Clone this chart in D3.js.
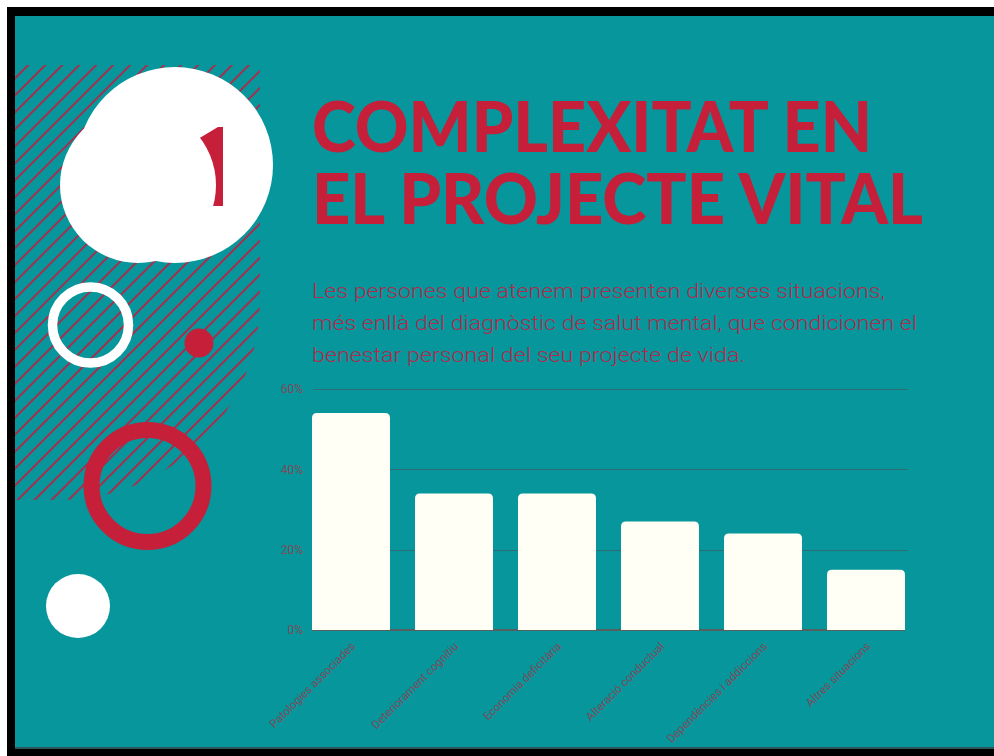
<!DOCTYPE html>
<html>
<head>
<meta charset="utf-8">
<script src="https://cdn.jsdelivr.net/npm/d3@7"></script>
<style>
  html, body { margin: 0; padding: 0; background: #ffffff; }
  svg { display: block; }
</style>
</head>
<body>
<div id="viz"></div>
<script>
// chart values
var categories = ["Patologies associades", "Deteriorament cognitiu", "Economia deficitària",
                  "Alteració conductual", "Dependències i addiccions", "Altres situacions"];
var values = [54, 34, 34, 27, 24, 15];
var tickValues = [0, 20, 40, 60];
var tickLabels = ["0%", "20%", "40%", "60%"];

var titleLines = ["COMPLEXITAT EN", "EL PROJECTE VITAL"];
var subtitleLines = ["Les persones que atenem presenten diverses situacions,",
                     "més enllà del diagnòstic de salut mental, que condicionen el",
                     "benestar personal del seu projecte de vida."];

var W = 994, H = 756;
var teal = "#06969b", red = "#c61f3a";

var svg = d3.select("#viz").append("svg")
    .attr("width", W)
    .attr("height", H);

// frame
svg.append("rect").attr("x", 7).attr("y", 7).attr("width", W - 7).attr("height", H - 7).attr("fill", "#000");
svg.append("rect").attr("x", 15).attr("y", 16).attr("width", W - 15).attr("height", 733).attr("fill", teal);
svg.append("rect").attr("x", 15).attr("y", 747).attr("width", W - 15).attr("height", 2).attr("fill", "#2f5658");

var defs = svg.append("defs");

// hatched area
var pat = defs.append("pattern")
    .attr("id", "hatch")
    .attr("patternUnits", "userSpaceOnUse")
    .attr("width", 12).attr("height", 12)
    .attr("patternTransform", "rotate(45)");
pat.append("line")
    .attr("x1", 6).attr("y1", 0).attr("x2", 6).attr("y2", 12)
    .attr("stroke", "#a3304e").attr("stroke-width", 2);

defs.append("clipPath").attr("id", "hatchClip")
  .append("path")
    .attr("d", "M15,65 H260 V300 A200,200 0 0 1 60,500 H15 Z");

svg.append("rect")
    .attr("x", 15).attr("y", 60).attr("width", 250).attr("height", 445)
    .attr("fill", "url(#hatch)")
    .attr("clip-path", "url(#hatchClip)");

// big white blob with the number peeking out
svg.append("circle").attr("cx", 175).attr("cy", 165).attr("r", 98).attr("fill", "#fff");
svg.append("path")
    .attr("d", "M198,139 L218,127 L223,127 L223,206 L190,206 Z")
    .attr("fill", red);
svg.append("circle").attr("cx", 138).attr("cy", 185).attr("r", 78).attr("fill", "#fff");

// small shapes
svg.append("circle").attr("cx", 90.5).attr("cy", 325).attr("r", 38)
    .attr("fill", "none").attr("stroke", "#fff").attr("stroke-width", 9.5);
svg.append("circle").attr("cx", 199).attr("cy", 343).attr("r", 14.5).attr("fill", red);
svg.append("circle").attr("cx", 147.5).attr("cy", 486).attr("r", 56)
    .attr("fill", "none").attr("stroke", red).attr("stroke-width", 16);
svg.append("circle").attr("cx", 78).attr("cy", 606).attr("r", 32).attr("fill", "#fff");

// title
var titleWidths = [560, 611];
svg.selectAll("text.title")
    .data(titleLines)
  .enter().append("text")
    .attr("class", "title")
    .attr("x", 312)
    .attr("y", function (d, i) { return 152 + i * 72; })
    .attr("textLength", function (d, i) { return titleWidths[i]; })
    .attr("lengthAdjust", "spacingAndGlyphs")
    .style("font-family", "Lato, sans-serif")
    .style("font-weight", 900)
    .style("font-size", "71px")
    .style("fill", red)
    .text(function (d) { return d; });

// subtitle
var subWidths = [573, 605, 433];
svg.selectAll("text.sub")
    .data(subtitleLines)
  .enter().append("text")
    .attr("class", "sub")
    .attr("x", 312)
    .attr("y", function (d, i) { return 298 + i * 32; })
    .attr("textLength", function (d, i) { return subWidths[i]; })
    .attr("lengthAdjust", "spacingAndGlyphs")
    .style("font-family", "Roboto, sans-serif")
    .style("font-weight", 300)
    .style("font-size", "21px")
    .style("fill", "#ad2d4d")
    .text(function (d) { return d; });

// chart
var x = d3.scaleBand()
    .domain(categories)
    .range([312, 905])
    .paddingInner(0.243)
    .paddingOuter(0);

var y = d3.scaleLinear()
    .domain([0, 60])
    .range([630, 389]);

var grid = svg.append("g");
grid.selectAll("line")
    .data(tickValues.slice(1))
  .enter().append("line")
    .attr("x1", 313).attr("x2", 908)
    .attr("y1", function (d) { return Math.round(y(d)) + 0.5; })
    .attr("y2", function (d) { return Math.round(y(d)) + 0.5; })
    .attr("stroke", "#2f6c74")
    .attr("stroke-width", 1.2);

grid.selectAll("text")
    .data(tickValues)
  .enter().append("text")
    .attr("x", 303)
    .attr("y", function (d) { return y(d); })
    .attr("dy", "0.35em")
    .attr("text-anchor", "end")
    .style("font-family", "Roboto, sans-serif")
    .style("font-size", "12px")
    .style("fill", "#7e4c5c")
    .text(function (d, i) { return tickLabels[i]; });

// baseline
svg.append("line")
    .attr("x1", 312).attr("x2", 905)
    .attr("y1", y(0)).attr("y2", y(0))
    .attr("stroke", "#56605f")
    .attr("stroke-width", 2);

function topRounded(x0, y0, w, h, r) {
    return "M" + x0 + "," + (y0 + h) +
        "V" + (y0 + r) +
        "Q" + x0 + "," + y0 + " " + (x0 + r) + "," + y0 +
        "H" + (x0 + w - r) +
        "Q" + (x0 + w) + "," + y0 + " " + (x0 + w) + "," + (y0 + r) +
        "V" + (y0 + h) + "Z";
}

svg.append("g").selectAll("path")
    .data(values)
  .enter().append("path")
    .attr("d", function (d, i) {
        var top = y(d);
        return topRounded(x(categories[i]), top, x.bandwidth(), y(0) - top, 5);
    })
    .attr("fill", "#fffff6");

// rotated category labels
svg.append("g").selectAll("text")
    .data(categories)
  .enter().append("text")
    .attr("transform", function (d) {
        return "translate(" + (x(d) + x.bandwidth() / 2 + 5) + "," + 647 + ") rotate(-45)";
    })
    .attr("text-anchor", "end")
    .style("font-family", "Roboto, sans-serif")
    .style("font-size", "11.5px")
    .style("fill", "#7e4c5c")
    .text(function (d) { return d; });
</script>
</body>
</html>
